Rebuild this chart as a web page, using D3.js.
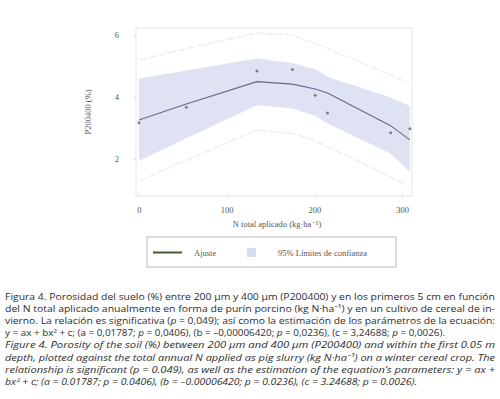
<!DOCTYPE html>
<html><head><meta charset="utf-8">
<script src="https://cdn.jsdelivr.net/npm/d3@7"></script>
<style>
html,body{margin:0;padding:0;background:#fff;}
svg{display:block;}
</style></head>
<body><svg id="c" width="500" height="399"></svg>
<script>
// ---- data ----
const nApplied   = [0, 54, 134.5, 175, 201, 215, 287, 309];          // kg N/ha
const porosity   = [3.17, 3.67, 4.84, 4.89, 4.06, 3.49, 2.85, 2.98];  // observed P200400 (%)
const fitted     = [3.26, 3.78, 4.50, 4.42, 4.26, 4.13, 3.08, 2.62];  // Ajuste
const confUpper  = [4.60, 4.86, 5.25, 5.09, 4.90, 4.66, 3.99, 3.71];  // 95% conf. upper
const confLower  = [1.95, 2.67, 3.74, 3.63, 3.40, 3.15, 2.18, 1.59];  // 95% conf. lower
const predUpper  = [5.19, 5.56, 6.07, 6.00, 5.73, 5.57, 4.71, 4.44];  // prediction limit upper
const predLower  = [1.30, 1.96, 2.94, 2.83, 2.59, 2.40, 1.43, 1.11];  // prediction limit lower
const xTicks = [0, 100, 200, 300];
const yTicks = [2, 4, 6];
const xLabel = "N total aplicado (kg·ha\u207B\u00B9)";
const yLabel = "P200400 (%)";
const legendLabels = ["Ajuste", "95% Límites de confianza"];
const captionES = [
 "Figura 4. Porosidad del suelo (%) entre 200 µm y 400 µm (P200400) y en los primeros 5 cm en función",
 "del N total aplicado anualmente en forma de purín porcino (kg N·ha\u207B\u00B9) y en un cultivo de cereal de in-",
 "vierno. La relación es significativa (<i>p</i> = 0,049); así como la estimación de los parámetros de la ecuación:",
 "y = ax + bx\u00B2 + c; (a = 0,01787; <i>p</i> = 0,0406), (b = \u20130,00006420; <i>p</i> = 0,0236), (c = 3,24688; <i>p</i> = 0,0026)."
];
const captionEN = [
 "Figure 4. Porosity of the soil (%) between 200 µm and 400 µm (P200400) and within the first 0.05 m",
 "depth, plotted against the total annual N applied as pig slurry (kg N·ha\u207B\u00B9) on a winter cereal crop. The",
 "relationship is significant (p = 0.049), as well as the estimation of the equation’s parameters: y = ax +",
 "bx\u00B2 + c; (a = 0.01787; p = 0.0406), (b = \u20130.00006420; p = 0.0236), (c = 3.24688; p = 0.0026)."
];

const rows = nApplied.map((x,i)=>({x, y:porosity[i], f:fitted[i], cu:confUpper[i], cl:confLower[i], pu:predUpper[i], pl:predLower[i]}));

const svg = d3.select("#c");
const L=136, R=412, T=28, B=196;
const x = d3.scaleLinear().domain([-3.4, 311.4]).range([L, R]);
const y = d3.scaleLinear().domain([0.81, 6.23]).range([B, T]);

const serif = "'Liberation Serif','DejaVu Serif',serif";

// frame
svg.append("rect").attr("x",L).attr("y",T).attr("width",R-L).attr("height",B-T)
  .attr("fill","none").attr("stroke","#e4e4e4").attr("stroke-width",1);

// confidence band
svg.append("path").datum(rows)
  .attr("d", d3.area().x(d=>x(d.x)).y0(d=>y(d.cl)).y1(d=>y(d.cu)))
  .attr("fill","#dee2f3");

// prediction limits
["pu","pl"].forEach(k=>{
  svg.append("path").datum(rows)
    .attr("d", d3.line().x(d=>x(d.x)).y(d=>y(d[k])))
    .attr("fill","none").attr("stroke","#ededf1").attr("stroke-width",1.3)
    .attr("stroke-dasharray","8,2");
});

// fit line
svg.append("path").datum(rows)
  .attr("d", d3.line().x(d=>x(d.x)).y(d=>y(d.f)))
  .attr("fill","none").attr("stroke","#65698a").attr("stroke-width",1.1);

// points
svg.selectAll("circle.pt").data(rows).join("circle")
  .attr("class","pt").attr("cx",d=>x(d.x)).attr("cy",d=>y(d.y)).attr("r",1.5)
  .attr("fill","#80808c");

// axes
const xAxis = svg.append("g").attr("transform",`translate(0,${B})`)
  .call(d3.axisBottom(x).tickValues(xTicks).tickSize(-3).tickPadding(11).tickFormat(d3.format("d")));
const yAxis = svg.append("g").attr("transform",`translate(${L},0)`)
  .call(d3.axisLeft(y).tickValues(yTicks).tickSize(3).tickPadding(14).tickFormat(d3.format("d")));
[xAxis,yAxis].forEach(g=>{
  g.select(".domain").remove();
  g.selectAll("line").attr("stroke","#e0e0e0");
  g.selectAll("text").attr("font-family",serif).attr("font-size",8.5).attr("fill","#555");
});

// axis labels
svg.append("text").attr("x",277).attr("y",227).attr("text-anchor","middle")
  .attr("font-family",serif).attr("font-size",8.5).attr("fill","#555").text(xLabel);
svg.append("text").attr("transform",`translate(91,${(T+B)/2}) rotate(-90)`).attr("text-anchor","middle")
  .attr("font-family",serif).attr("font-size",8.5).attr("fill","#555").text(yLabel);

// legend
const lg = svg.append("g");
lg.append("rect").attr("x",147).attr("y",237).attr("width",249).attr("height",30)
  .attr("fill","#fff").attr("stroke","#aaa").attr("stroke-width",0.8);
lg.append("line").attr("x1",153).attr("x2",182).attr("y1",252.5).attr("y2",252.5)
  .attr("stroke","#3f5a2c").attr("stroke-width",2);
lg.append("text").attr("x",194).attr("y",255.5).attr("font-family",serif).attr("font-size",8.5)
  .attr("fill","#555").text(legendLabels[0]);
lg.append("rect").attr("x",247).attr("y",248).attr("width",9).attr("height",9).attr("fill","#d6ddf0");
lg.append("text").attr("x",278).attr("y",255.5).attr("font-family",serif).attr("font-size",8.5)
  .attr("fill","#555").text(legendLabels[1]);

// caption
const sans = "'Open Sans','Noto Sans',sans-serif";
const lineGap = 12.1;
const y0 = 300;
const widthsES = [490, 490, 490, 440];
const widthsEN = [490, 490, 490, 412];
function addLine(html, i, italic, w){
  const t = svg.append("text").attr("x",5).attr("y",y0+i*lineGap)
    .attr("font-family",sans).attr("font-size",8.85).attr("fill","#2e2e2e")
    .attr("textLength",w).attr("lengthAdjust","spacingAndGlyphs");
  if(italic) t.attr("font-style","italic");
  const parts = html.split(/(<i>.*?<\/i>)/);
  parts.forEach(p=>{
    if(!p) return;
    const m = p.match(/^<i>(.*)<\/i>$/);
    const ts = t.append("tspan").text(m?m[1]:p);
    if(m) ts.attr("font-style","italic");
  });
}
captionES.forEach((s,i)=>addLine(s,i,false,widthsES[i]));
captionEN.forEach((s,i)=>addLine(s,i+4,true,widthsEN[i]));
</script></body></html>
